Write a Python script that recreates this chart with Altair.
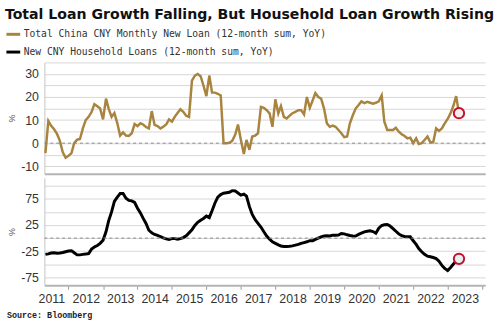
import altair as alt
import pandas as pd

# ---------------- data ----------------
series_names = [
    "Total China CNY Monthly New Loan (12-month sum, YoY)",
    "New CNY Household Loans (12-month sum, YoY)",
]
series_colors = ["#a8843f", "#000000"]

start_month = "2011-05-01"

total_loan = [
    -4.3, 9.6, 7.5, 6.0, 4.0, 1.0, -4.0, -6.3,
    -5.5, -4.3, 0.0, 1.5, 1.8, 6.4, 10.0, 11.4, 13.5, 16.9, 16.0, 15.0,
    10.3, 19.3, 15.0, 11.4, 13.1, 8.6, 3.3, 4.7, 3.3, 3.1, 4.3, 8.3,
    7.4, 8.6, 8.1, 7.0, 6.4, 13.9, 7.9, 7.4, 6.4, 7.1, 8.1, 10.3,
    9.3, 11.5, 13.1, 14.7, 13.6, 11.9, 11.4, 27.1, 29.3, 30.0, 29.0, 25.0,
    20.4, 29.3, 21.9, 21.9, 21.4, 20.7, 0.0, 0.0, 0.2, 1.0, 3.6, 8.1,
    1.4, -4.7, 1.4, -2.9, 2.9, 3.3, 4.3, 15.7, 15.3, 14.3, 12.9, 7.1,
    19.0, 12.9, 16.1, 11.4, 10.7, 11.9, 13.0, 13.6, 14.3, 14.3, 12.4, 20.0,
    15.3, 18.6, 21.7, 20.0, 19.3, 15.0, 8.6, 7.1, 7.6, 7.1, 5.7, 4.3,
    2.6, 2.9, 8.6, 12.1, 15.0, 16.5, 18.1, 17.4, 17.9, 17.5, 17.1, 17.5,
    18.1, 20.7, 9.3, 5.7, 5.7, 5.7, 6.7, 5.0, 3.9, 3.1, 2.1, 2.4,
    0.0, 2.1, -0.4, 0.0, 1.4, 2.9, 0.4, 0.4, 6.4, 5.3, 6.4, 8.6,
    10.5, 13.0, 16.0, 20.4, 13.0,
]

household_loan = [
    -31.0, -30.0, -28.5, -28.0, -29.0, -28.5, -27.5, -26.0,
    -24.5, -24.0, -28.0, -32.0, -32.0, -31.0, -30.5, -29.5, -21.0, -17.0, -14.0, -10.0,
    -4.0, 12.0, 33.0, 50.0, 70.0, 78.0, 85.0, 85.0, 76.0, 72.0, 71.0, 68.0,
    57.0, 48.0, 38.0, 28.0, 15.0, 10.0, 7.0, 5.0, 3.0, 0.5, -1.5, -2.5,
    -1.0, -1.0, -2.0, -1.0, 1.0, 4.4, 10.0, 16.0, 24.0, 30.0, 34.0, 37.5,
    42.0, 39.0, 52.0, 67.0, 78.0, 83.0, 85.5, 86.5, 87.5, 90.5, 90.0, 86.0,
    82.0, 84.0, 80.0, 60.0, 45.0, 35.0, 28.0, 21.0, 12.0, 4.0, -2.0, -7.0,
    -10.0, -13.0, -15.0, -16.0, -16.0, -15.6, -14.8, -13.5, -12.0, -10.0, -8.5, -7.0,
    -5.0, -5.0, -2.5, 0.0, 2.5, 4.0, 4.4, 4.2, 5.6, 5.6, 6.0, 8.8,
    8.0, 6.3, 5.0, 4.0, 3.8, 7.0, 9.5, 12.0, 13.0, 13.8, 12.5, 9.4,
    18.8, 24.0, 25.5, 26.0, 23.0, 18.0, 13.0, 8.0, 4.5, 3.0, 2.8, 2.5,
    -5.0, -12.0, -20.0, -26.0, -31.0, -34.5, -35.5, -37.0, -39.0, -44.0, -52.0, -58.0,
    -62.0, -56.0, -50.0, -44.0, -39.5,
]

top_grid_values = [-10, -5, 0, 5, 10, 15, 20, 25, 30, 35]
bottom_grid_values = [-75, -50, -25, 0, 25, 50, 75, 100]
year_tick_years = list(range(2012, 2025))

title_text = "Total Loan Growth Falling, But Household Loan Growth Rising"
source_text = "Source: Bloomberg"

# ---------------- frames ----------------
top_df = pd.DataFrame({
    "date": pd.date_range(start_month, periods=len(total_loan), freq="MS").strftime("%Y-%m-%d"),
    "value": total_loan,
    "series": series_names[0],
})
bot_df = pd.DataFrame({
    "date": pd.date_range(start_month, periods=len(household_loan), freq="MS").strftime("%Y-%m-%d"),
    "value": household_loan,
    "series": series_names[1],
})
zero_df = pd.DataFrame({"value": [0]})

W = 447
TOP_H = 113
BOT_H = 109
LABEL_FONT = "Liberation Sans"

x_scale = alt.Scale(
    type="utc",
    domain=[alt.DateTime(year=2011, month=4, date=20, utc=True),
            alt.DateTime(year=2024, month=2, date=3, utc=True)],
)
year_ticks = [alt.DateTime(year=y, month=1, date=1, utc=True) for y in year_tick_years]

grid_color = "#d6d6d6"
axis_line_color = "#c4c4c4"


def y_axis(values, label_expr):
    return alt.Axis(
        values=values, labelExpr=label_expr, ticks=False, domain=True,
        domainColor=axis_line_color, domainWidth=1, grid=True, gridColor=grid_color,
        gridWidth=1, gridOpacity=1, labelFont=LABEL_FONT, labelFontSize=12.5,
        labelColor="#333333", labelPadding=6, labelOverlap=False, title="%",
        titleFont=LABEL_FONT, titleFontSize=9, titleFontWeight="normal",
        titleColor="#555555", titleX=-33, titleAlign="center", titleBaseline="middle",
    )


# ---------------- top panel ----------------
top_x = alt.X("date:T", scale=x_scale, axis=alt.Axis(
    values=year_ticks, labels=False, ticks=False, grid=False, domain=True,
    domainColor="#b4b4b4", domainWidth=2, title=None))
top_y = alt.Y("value:Q", scale=alt.Scale(domain=[-13.3, 35], nice=False, zero=False),
              axis=y_axis(top_grid_values, "datum.value % 10 == 0 ? '' + datum.value : ''"))

top_line = alt.Chart(top_df).mark_line(strokeWidth=2.5).encode(
    x=top_x,
    y=top_y,
    color=alt.Color("series:N", scale=alt.Scale(domain=series_names, range=series_colors),
                    legend=alt.Legend(
                        title=None, orient="none", legendX=-40, legendY=-37,
                        direction="vertical", symbolType="stroke", symbolStrokeWidth=3,
                        symbolSize=196, labelFont="DejaVu Sans Mono", labelFontSize=9.8,
                        labelColor="#333333", rowPadding=3, labelOffset=2,
                        labelLimit=400)),
)
top_zero = alt.Chart(zero_df).mark_rule(color="#8a8a8a", strokeDash=[3, 3], strokeWidth=1).encode(y=top_y)
top_mark = alt.Chart(top_df.tail(1)).mark_circle(
    size=110, fill="#f6eeee", stroke="#c8102e", strokeWidth=2, opacity=1
).encode(x=top_x, y=top_y)

top = alt.layer(top_line, top_zero, top_mark).properties(width=W, height=TOP_H)

# ---------------- bottom panel ----------------
bot_x = alt.X("date:T", scale=x_scale, axis=alt.Axis(
    values=year_ticks, labelExpr="'' + (utcyear(datum.value) - 1)", labelOffset=-17.5,
    ticks=True, tickSize=4, tickColor="#9a9a9a", grid=False, domain=True,
    domainColor="#b4b4b4", domainWidth=2, labelFont=LABEL_FONT, labelFontSize=12.5,
    labelColor="#333333", labelPadding=3, labelFlush=False, labelOverlap=False,
    title=source_text, titleFont="Liberation Mono", titleFontSize=8.5,
    titleFontWeight="bold", titleColor="#222222", titleX=-38.5, titleY=33,
    titleAlign="left", titleBaseline="alphabetic"))
bot_y = alt.Y("value:Q", scale=alt.Scale(domain=[-90, 115], nice=False, zero=False),
              axis=y_axis(bottom_grid_values, "abs(datum.value) % 50 == 25 ? '' + datum.value : ''"))

bot_line = alt.Chart(bot_df).mark_line(strokeWidth=3, color="#000000").encode(x=bot_x, y=bot_y)
bot_zero = alt.Chart(zero_df).mark_rule(color="#8a8a8a", strokeDash=[3, 3], strokeWidth=1).encode(y=bot_y)
bot_mark = alt.Chart(bot_df.tail(1)).mark_circle(
    size=110, fill="#dff3f3", stroke="#c8102e", strokeWidth=2, opacity=1
).encode(x=bot_x, y=bot_y)

bottom = alt.layer(bot_line, bot_zero, bot_mark).properties(width=W, height=BOT_H)

chart = alt.vconcat(top, bottom, spacing=4).properties(
    title=alt.TitleParams(text=title_text, anchor="start", font="DejaVu Sans", fontSize=14.3,
                          fontWeight="bold", color="#111111", offset=4),
    padding={"left": 5, "top": 5, "right": 5, "bottom": 5},
    background="white",
).configure_view(stroke=None)

chart.save("out.html", embed_options={"renderer": "svg", "actions": False})
